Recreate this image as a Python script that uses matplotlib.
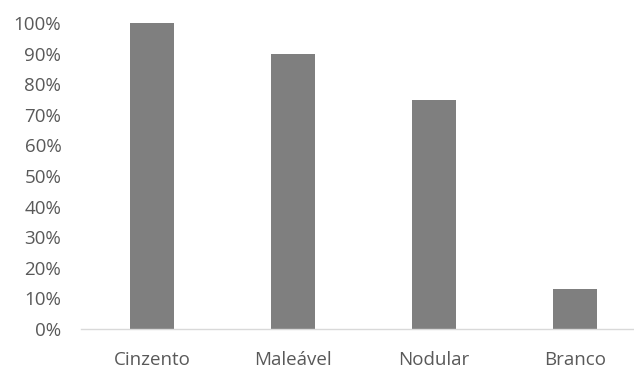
import matplotlib.pyplot as plt
from matplotlib.ticker import PercentFormatter

# share by type of cast iron
categories = ["Cinzento", "Maleável", "Nodular", "Branco"]
shares = [1.00, 0.90, 0.75, 0.13]

plt.rcParams['font.family'] = ['Open Sans', 'DejaVu Sans']

fig = plt.figure(figsize=(6.34, 3.67), dpi=100)
ax = fig.add_axes([81.5 / 634, 38 / 367, 564 / 634, 306 / 367])

x = range(len(categories))
ax.bar(x, shares, width=0.31, color="#7f7f7f")

ax.set_xlim(-0.5, len(categories) - 0.5)
ax.set_ylim(0, 1)
ax.set_yticks([i / 10 for i in range(11)])
ax.yaxis.set_major_formatter(PercentFormatter(1.0, decimals=0))
ax.set_xticks(list(x))
ax.set_xticklabels(categories)

for side in ["top", "right", "left"]:
    ax.spines[side].set_visible(False)
ax.spines["bottom"].set_color("#d9d9d9")
ax.spines["bottom"].set_linewidth(1.0)

ax.tick_params(axis="both", length=0, colors="#595959", labelsize=13.5)
ax.tick_params(axis="y", pad=14.5)
ax.tick_params(axis="x", pad=15.5)

fig.savefig("out.png", dpi=100)
